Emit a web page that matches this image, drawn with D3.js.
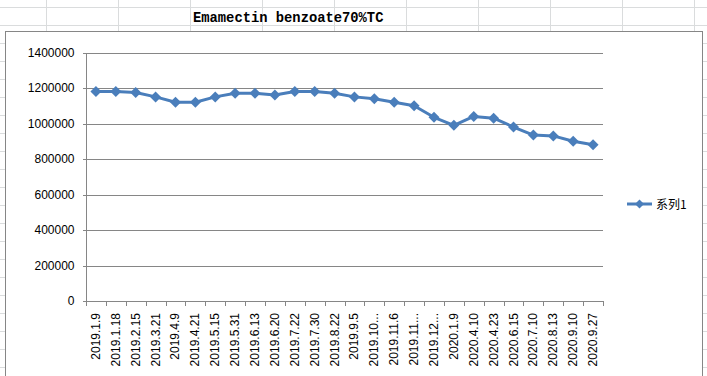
<!DOCTYPE html>
<html>
<head>
<meta charset="utf-8">
<script src="https://cdn.jsdelivr.net/npm/d3@7"></script>
<style>
  html, body { margin: 0; padding: 0; background: #fff; }
  svg { display: block; }
  .axis text { font-family: "Liberation Sans", Arial, sans-serif; font-size: 12px; fill: #000; }
  .axis path, .axis line { stroke: #868686; }
</style>
</head>
<body>
<div id="chart"></div>
<script>
// Emamectin benzoate 70%TC price line, Excel-style sheet screenshot
const TITLE = "Emamectin benzoate70%TC";
const SERIES_NAME = "系列1";
const DATES = [
  "2019.1.9", "2019.1.18", "2019.2.15", "2019.3.21", "2019.4.9", "2019.4.21",
  "2019.5.15", "2019.5.31", "2019.6.13", "2019.6.20", "2019.7.22", "2019.7.30",
  "2019.8.22", "2019.9.5", "2019.10...", "2019.11.6", "2019.11...", "2019.12...",
  "2020.1.9", "2020.4.10", "2020.4.23", "2020.6.15", "2020.7.10", "2020.8.13",
  "2020.9.10", "2020.9.27",
];
const PRICES = [
  1180000, 1180000, 1175000, 1150000, 1120000, 1120000,
  1150000, 1170000, 1170000, 1160000, 1180000, 1180000,
  1170000, 1150000, 1140000, 1120000, 1100000, 1035000,
  990000, 1040000, 1030000, 980000, 935000, 930000,
  900000, 880000,
];
const Y_TICKS = [0, 200000, 400000, 600000, 800000, 1000000, 1200000, 1400000];

(function () {
  const width = 707, height = 376;
  const svg = d3.select("#chart").append("svg").attr("width", width).attr("height", height);

  // spreadsheet cells behind the chart
  const sheet = svg.append("g").attr("stroke", "#dadcdd").attr("shape-rendering", "crispEdges");
  d3.range(7.5, height, 18).forEach((y) => {
    sheet.append("line").attr("x1", 0).attr("x2", width).attr("y1", y).attr("y2", y);
  });
  d3.range(45.5, width, 72.1).forEach((x) => {
    sheet.append("line").attr("x1", Math.round(x) + 0.5).attr("x2", Math.round(x) + 0.5).attr("y1", 0).attr("y2", height);
  });

  svg.append("text")
    .attr("x", 193)
    .attr("y", 22)
    .attr("font-family", "'Liberation Mono', 'DejaVu Sans Mono', monospace")
    .attr("font-weight", "bold")
    .attr("font-size", "13.8px")
    .attr("fill", "#000")
    .text(TITLE);

  // chart frame
  svg.append("rect")
    .attr("x", 5.5).attr("y", 31.5)
    .attr("width", 697).attr("height", 360)
    .attr("fill", "#fff")
    .attr("stroke", "#868686");

  const plot = { left: 86, right: 603, top: 52.5, bottom: 301 };

  const x = d3.scaleBand().domain(DATES).range([plot.left, plot.right]);
  const y = d3.scaleLinear().domain([0, 1400000]).range([plot.bottom, plot.top]);

  svg.append("g")
    .attr("stroke", "#868686")
    .attr("shape-rendering", "crispEdges")
    .selectAll("line")
    .data(Y_TICKS.filter((t) => t > 0))
    .join("line")
    .attr("x1", plot.left)
    .attr("x2", plot.right)
    .attr("y1", (d) => Math.round(y(d)) + 0.5)
    .attr("y2", (d) => Math.round(y(d)) + 0.5);

  const yAxis = svg.append("g")
    .attr("class", "axis")
    .attr("transform", `translate(${plot.left + 0.5},0)`)
    .attr("shape-rendering", "crispEdges")
    .call(d3.axisLeft(y).tickValues(Y_TICKS).tickSize(4).tickPadding(8).tickFormat((d) => d));
  yAxis.select(".domain").attr("d", `M0,${plot.top}V${plot.bottom}`);

  // category axis: ticks sit on band boundaries
  const xAxis = svg.append("g").attr("class", "axis").attr("shape-rendering", "crispEdges");
  xAxis.append("line")
    .attr("x1", plot.left).attr("x2", plot.right)
    .attr("y1", Math.round(plot.bottom) + 0.5).attr("y2", Math.round(plot.bottom) + 0.5);
  xAxis.selectAll("line.tick")
    .data(DATES.concat(["_end"]))
    .join("line")
    .attr("class", "tick")
    .attr("x1", (d, i) => Math.round(plot.left + i * x.step()) + 0.5)
    .attr("x2", (d, i) => Math.round(plot.left + i * x.step()) + 0.5)
    .attr("y1", plot.bottom)
    .attr("y2", plot.bottom + 5);
  xAxis.selectAll("text")
    .data(DATES)
    .join("text")
    .attr("transform", (d) => `translate(${x(d) + x.bandwidth() / 2 + 4},${plot.bottom + 12}) rotate(-90)`)
    .attr("text-anchor", "end")
    .text((d) => d);

  const color = "#4a7ebb";
  const line = d3.line()
    .x((d, i) => x(DATES[i]) + x.bandwidth() / 2)
    .y((d) => y(d));

  svg.append("path")
    .datum(PRICES)
    .attr("fill", "none")
    .attr("stroke", color)
    .attr("stroke-width", 3)
    .attr("stroke-linejoin", "round")
    .attr("d", line);

  // Excel's marker is a square turned 45 degrees
  const squareDiamond = (r) => `M0,${-r}L${r},0L0,${r}L${-r},0Z`;
  svg.append("g")
    .selectAll("path")
    .data(PRICES)
    .join("path")
    .attr("transform", (d, i) => `translate(${x(DATES[i]) + x.bandwidth() / 2},${y(d)})`)
    .attr("d", squareDiamond(5.5))
    .attr("fill", color);

  // legend
  const legend = svg.append("g").attr("transform", "translate(627,204)");
  legend.append("line").attr("x1", 0).attr("x2", 25).attr("stroke", color).attr("stroke-width", 3);
  legend.append("path").attr("transform", "translate(12.5,0)").attr("d", squareDiamond(4.5)).attr("fill", color);
  legend.append("text")
    .attr("x", 29)
    .attr("y", 4.5)
    .attr("font-family", "'Noto Sans CJK SC', sans-serif")
    .attr("font-size", "12px")
    .attr("fill", "#000")
    .text(SERIES_NAME);
})();
</script>
</body>
</html>
